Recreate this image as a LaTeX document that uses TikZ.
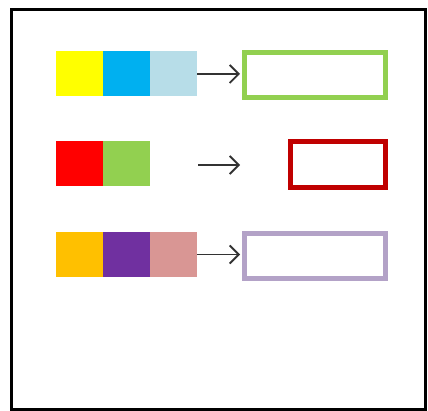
\documentclass[tikz,border=0pt]{standalone}
\usetikzlibrary{arrows.meta,positioning}

\definecolor{sqyellow}{HTML}{FFFF00}
\definecolor{sqblue}{HTML}{00B0F0}
\definecolor{sqlightblue}{HTML}{B7DDE8}
\definecolor{sqred}{HTML}{FF0000}
\definecolor{sqgreen}{HTML}{92D050}
\definecolor{sqorange}{HTML}{FFC000}
\definecolor{sqpurple}{HTML}{7030A0}
\definecolor{sqpink}{HTML}{D99694}
\definecolor{boxred}{HTML}{C00000}
\definecolor{boxlilac}{HTML}{B3A2C7}

\begin{document}
\begin{tikzpicture}[
  x=1pt, y=-1pt,
  cell/.style={minimum width=47pt, minimum height=45pt, inner sep=0pt, outer sep=0pt},
  target/.style={draw, line width=5pt, fill=white, inner sep=0pt, minimum width=141pt, minimum height=45pt},
  arrow/.style={-{Straight Barb[length=9pt,width=18pt]}, line width=1.8pt, draw=black!80}
]

\useasboundingbox (0,0) rectangle (428,411);

% Frame
\node[draw, line width=3pt, minimum width=414pt, minimum height=399pt, inner sep=0pt] (frame) at (218,209.5) {};

% Row 1
\node[cell, fill=sqyellow] (yellow) at (79.5,74) {};
\node[cell, fill=sqblue, right=0pt of yellow] (blue) {};
\node[cell, fill=sqlightblue, right=0pt of blue] (lightblue) {};
\node[target, draw=sqgreen] (greenbox) at (315,75) {};

% Row 2
\node[cell, fill=sqred] (red) at (79.5,164) {};
\node[cell, fill=sqgreen, right=0pt of red] (green) {};
\node[target, draw=boxred, minimum width=95pt, minimum height=46pt] (redbox) at (338,164.5) {};
\coordinate (r2start) at (198,165);
\coordinate (r2end) at (240,165);

% Row 3
\node[cell, fill=sqorange] (orange) at (79.5,254.5) {};
\node[cell, fill=sqpurple, right=0pt of orange] (purple) {};
\node[cell, fill=sqpink, right=0pt of purple] (pink) {};
\node[target, draw=boxlilac] (lilacbox) at (315,256) {};

% Arrows
\draw[arrow] (lightblue.east) -- ([xshift=-2pt]greenbox.west |- lightblue.east);
\draw[arrow] (r2start) -- (r2end);
\draw[arrow] (pink.east) -- ([xshift=-2pt]lilacbox.west |- pink.east);

\end{tikzpicture}
\end{document}
